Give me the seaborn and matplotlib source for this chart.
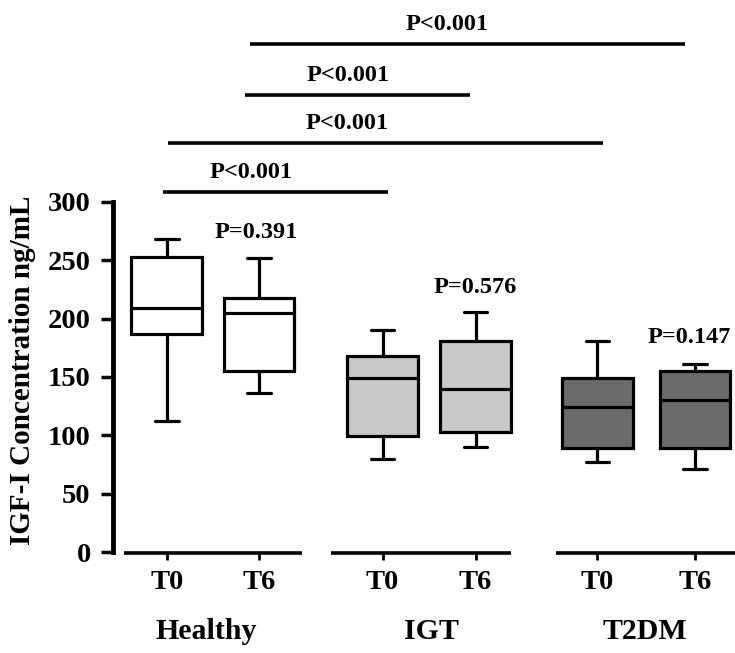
import numpy as np
import pandas as pd
import seaborn as sns
import matplotlib.pyplot as plt

# box summaries: min, Q1, median, Q3, max
groups = ["Healthy", "Healthy", "IGT", "IGT", "T2DM", "T2DM"]
times = ["T0", "T6", "T0", "T6", "T0", "T6"]
positions = [0, 0.99, 2.32, 3.32, 4.63, 5.68]
healthy_t0 = [112, 187, 209, 253, 268]
healthy_t6 = [136, 155, 205, 218, 252]
igt_t0 = [80, 99.5, 149.5, 168, 190]
igt_t6 = [90, 103, 140, 181, 206]
t2dm_t0 = [77.5, 89.5, 124.5, 149.5, 181]
t2dm_t6 = [71, 89.5, 130, 155.5, 161.5]
boxes = [healthy_t0, healthy_t6, igt_t0, igt_t6, t2dm_t0, t2dm_t6]

group_names = ["Healthy", "IGT", "T2DM"]
group_colors = ["#ffffff", "#c9c9c9", "#6b6b6b"]
group_spans = [(-0.46, 1.45), (1.77, 3.70), (4.19, 6.2)]
group_label_x = [0.42, 2.84, 5.14]

# within-group p values (over the T6 box)
pair_labels = ["P=0.391", "P=0.576", "P=0.147"]
pair_x = [0.96, 3.32, 5.62]
pair_y = [274, 227, 184]

# between-group comparisons
sig_start = [0.89, 0.84, 0.01, -0.04]
sig_end = [5.57, 3.26, 4.69, 2.38]
sig_y = [435, 391, 350, 308]
sig_text_x = [3.01, 1.95, 1.94, 0.91]
sig_text = ["P<0.001", "P<0.001", "P<0.001", "P<0.001"]

rows = []
for g, t, p, vals in zip(groups, times, positions, boxes):
    for v in vals:
        rows.append({"group": g, "time": t, "pos": p, "value": v})
df = pd.DataFrame(rows)

sns.set_style("ticks")
plt.rcParams["font.family"] = ["Liberation Serif", "DejaVu Serif"]
plt.rcParams["font.weight"] = "bold"
for key in ["text.color", "axes.labelcolor", "xtick.color", "ytick.color",
            "axes.edgecolor"]:
    plt.rcParams[key] = "black"

fig = plt.figure(figsize=(7.35, 6.53), dpi=100)
ax = fig.add_axes([0.1537, 0.1542, 0.8463, 0.8412])

sns.boxplot(data=df, x="pos", y="value", hue="group", native_scale=True,
            dodge=False, palette=group_colors, whis=(0, 100), width=0.77,
            linecolor="black", linewidth=2.3, legend=False, ax=ax,
            capwidths=0.25)

ax.set_xlim(-0.58, 6.11)
ax.set_ylim(0, 470)
ax.set_yticks(range(0, 301, 50))
ax.spines["left"].set_bounds(0, 300)
ax.spines["left"].set_linewidth(3.5)
for s in ["top", "right", "bottom"]:
    ax.spines[s].set_visible(False)
ax.tick_params(axis="y", length=9, width=2.5, pad=7, labelsize=20.5)
ax.set_xticks(positions)
ax.set_xticklabels(times)
ax.tick_params(axis="x", length=6, width=2, pad=7, labelsize=20.5)

ax.set_ylabel("IGF-I Concentration ng/mL", fontsize=21, fontweight="bold")
ax.yaxis.set_label_coords(-0.124, 156 / 470)
ax.set_xlabel("")

for (x0, x1), name, lx in zip(group_spans, group_names, group_label_x):
    ax.plot([x0, x1], [-1, -1], color="black", lw=2.6, clip_on=False,
            solid_capstyle="butt")
    ax.text(lx, -68, name, ha="center", va="center", fontsize=21.5,
            fontweight="bold", clip_on=False)

for px, lab, y in zip(pair_x, pair_labels, pair_y):
    ax.text(px, y, lab, ha="center", va="center", fontsize=17.5,
            fontweight="bold")

for x0, x1, y, tx, lab in zip(sig_start, sig_end, sig_y, sig_text_x, sig_text):
    ax.plot([x0, x1], [y, y], color="black", lw=2.6, clip_on=False,
            solid_capstyle="butt")
    ax.text(tx, y + 17, lab, ha="center", va="center", fontsize=17.5,
            fontweight="bold", clip_on=False)

fig.savefig("out.png", dpi=100)
